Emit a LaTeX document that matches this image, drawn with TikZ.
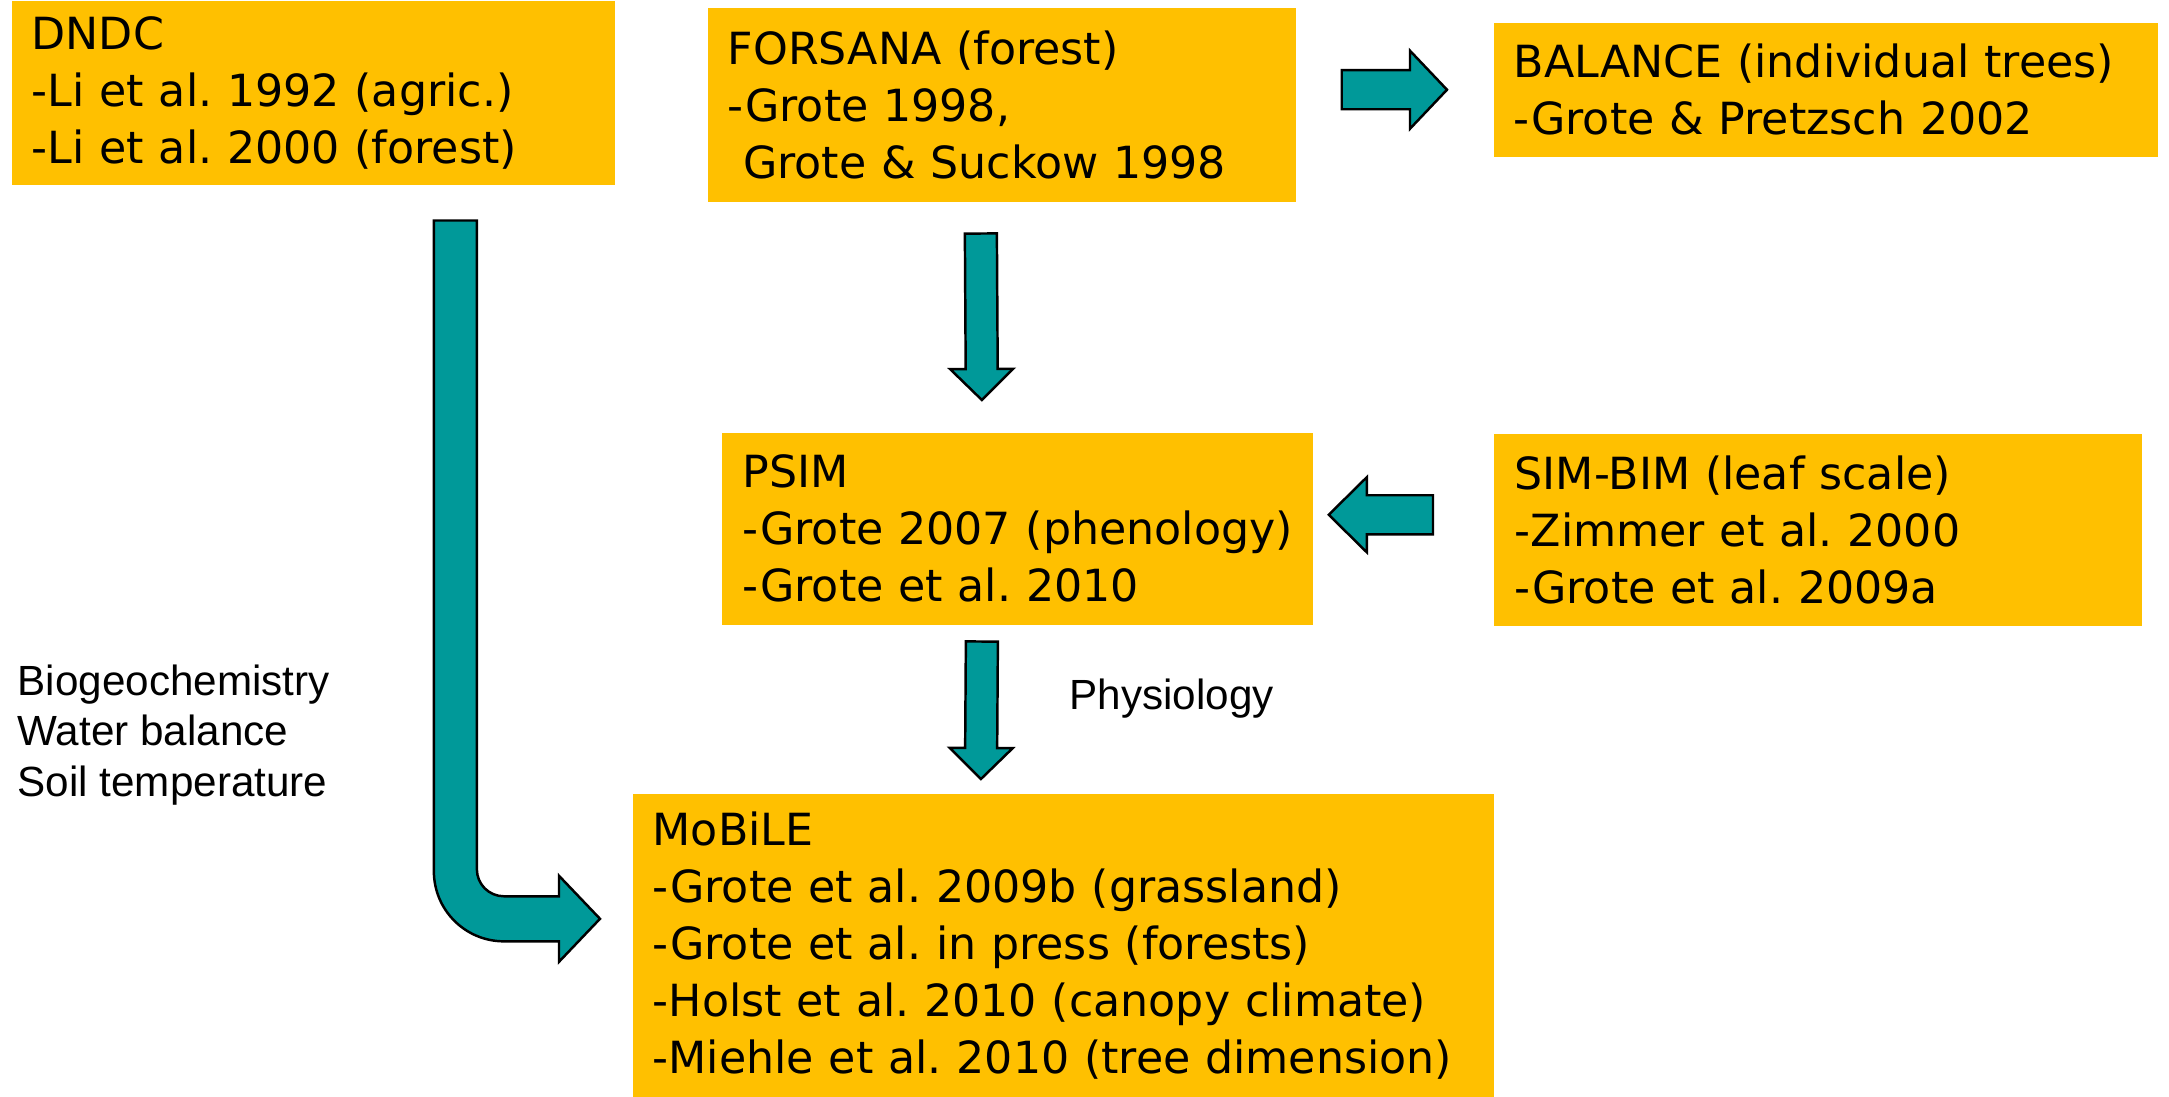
\documentclass[tikz,border=0pt]{standalone}
\usepackage{fontspec}
\usetikzlibrary{calc}
\newfontfamily\boxfont{DejaVu Sans}
\newfontfamily\notefont{Liberation Sans}
\definecolor{boxgold}{HTML}{FFC000}
\definecolor{arrowteal}{HTML}{009999}
\frenchspacing

% straight block arrow: from, to, shaft half width, head half width, head length
\newcommand\blockarrow[5]{%
  \pgfpointdiff{\pgfpointanchor{#1}{center}}{\pgfpointanchor{#2}{center}}%
  \pgfgetlastxy{\badx}{\bady}%
  \pgfmathsetmacro\baang{atan2(\bady,\badx)}%
  \pgfmathsetmacro\balen{veclen(\badx,\bady)}%
  \draw[block arrow,shift={(#1)},rotate=\baang]
    (0pt,-#3) -- (\balen pt-#5,-#3) -- (\balen pt-#5,-#4) -- (\balen pt,0pt)
    -- (\balen pt-#5,#4) -- (\balen pt-#5,#3) -- (0pt,#3) -- cycle;
}

\begin{document}
\begin{tikzpicture}[x=0.01cm,y=-0.01cm,
    model box/.style={fill=boxgold,anchor=north west,align=left,inner xsep=0.2cm,inner ysep=0pt,
      font=\boxfont\fontsize{12.6}{16.2}\selectfont},
    note/.style={anchor=west,align=left,inner sep=0pt,font=\notefont\fontsize{12}{14.4}\selectfont},
    block arrow/.style={draw=black,fill=arrowteal,line width=0.7pt,line join=miter}
    ]
  \useasboundingbox (0,0) rectangle (2169,1097);

  \node[model box,text width=5.63cm,minimum height=1.84cm] (dndc) at (11,0)
    {DNDC\\-Li et al. 1992 (agric.)\\-Li et al. 2000 (forest)};
  \node[model box,text width=5.48cm,minimum height=1.94cm] (forsana) at (707,7)
    {FORSANA (forest)\\-Grote 1998,\\\hspace*{0.35em}Grote \& Suckow 1998};
  \node[model box,text width=6.24cm,minimum height=1.34cm] (balance) at (1493,22)
    {BALANCE (individual trees)\\-Grote \& Pretzsch 2002};
  \node[model box,text width=5.49cm,minimum height=1.92cm,inner xsep=0.21cm] (psim) at (721,432)
    {PSIM\\-Grote 2007 (phenology)\\-Grote et al. 2010};
  \node[model box,text width=6.06cm,minimum height=1.92cm,inner xsep=0.21cm] (simbim) at (1493,433)
    {SIM-BIM (leaf scale)\\-Zimmer et al. 2000\\-Grote et al. 2009a};
  \node[model box,text width=8.21cm,minimum height=3.04cm] (mobile) at (632,793)
    {MoBiLE\\-Grote et al. 2009b (grassland)\\-Grote et al. in press (forests)\\-Holst et al. 2010 (canopy climate)\\-Miehle et al. 2010 (tree dimension)};

  \node[note] (soil) at (17,735) {Biogeochemistry\\Water balance\\Soil temperature};
  \node[note] (physio) at (1069,699) {Physiology};

  % arrow ends
  \path (forsana.east |- balance.west) ++(45,0) coordinate (fb-s);
  \path (balance.west) ++(-46,0) coordinate (fb-e);
  \path (forsana.south) ++(-21,31) coordinate (fp-s);
  \path (psim.north) ++(-35.5,-32) coordinate (fp-e);
  \path (simbim.west) ++(-60,-15) coordinate (sp-s);
  \path (psim.east) ++(15,-14) coordinate (sp-e);
  \path (psim.south) ++(-35.5,16) coordinate (pm-s);
  \path (mobile.north) ++(-82.5,-14) coordinate (pm-e);
  \path (dndc.south) ++(142,35) coordinate (dm-s);
  \path (mobile.west) ++(-32,-27) coordinate (dm-e);
  \coordinate (dm-c) at (dm-s |- dm-e);

  \blockarrow{fb-s}{fb-e}{0.195cm}{0.39cm}{0.37cm}
  \blockarrow{fp-s}{fp-e}{0.16cm}{0.315cm}{0.31cm}
  \blockarrow{sp-s}{sp-e}{0.195cm}{0.375cm}{0.38cm}
  \blockarrow{pm-s}{pm-e}{0.16cm}{0.315cm}{0.31cm}

  % bent arrow DNDC -> MoBiLE
  \draw[block arrow]
    ($(dm-s)+(-21.5,0)$) -- ($(dm-c)+(-21.5,-47.5)$)
    arc[start angle=180,end angle=270,radius=0.7cm]
    -- ($(dm-e)+(-41,22.5)$) -- ($(dm-e)+(-41,43)$) -- (dm-e)
    -- ($(dm-e)+(-41,-43)$) -- ($(dm-e)+(-41,-22.5)$) -- ($(dm-c)+(48.5,-22.5)$)
    arc[start angle=270,end angle=180,radius=0.27cm]
    -- ($(dm-s)+(21.5,0)$) -- cycle;
\end{tikzpicture}
\end{document}
